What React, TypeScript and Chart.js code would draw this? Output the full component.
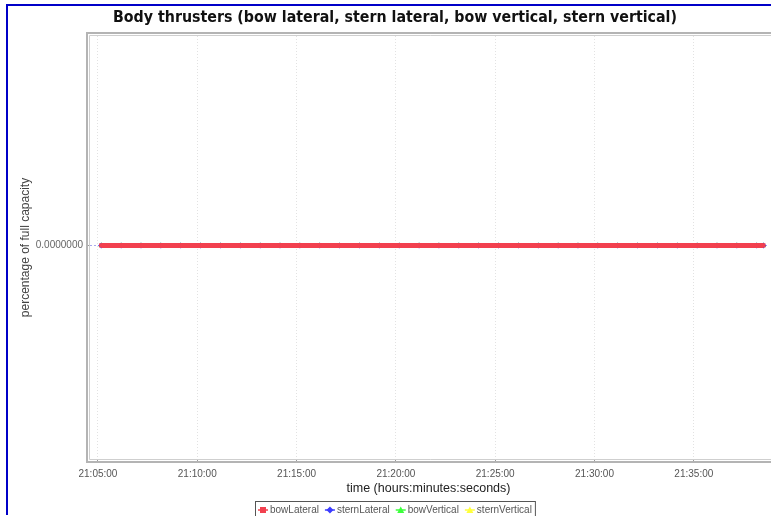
import React, { useEffect, useRef } from "react";
import { Chart, registerables } from "chart.js";

Chart.register(...registerables);

const chartTitle = "Body thrusters (bow lateral, stern lateral, bow vertical, stern vertical)";
const xAxisTitle = "time (hours:minutes:seconds)";
const yAxisTitle = "percentage of full capacity";

const seriesNames = ["bowLateral", "sternLateral", "bowVertical", "sternVertical"];
const seriesColors = ["#f2404f", "#3c3cff", "#3cff3c", "#ffff3c"];
const seriesPointStyles = ["rect", "rectRot", "triangle", "triangle"];

const sampleTimes = [
  "21:05:10", "21:06:10", "21:07:10", "21:08:10", "21:09:10", "21:10:10", "21:11:10",
  "21:12:10", "21:13:10", "21:14:10", "21:15:10", "21:16:10", "21:17:10", "21:18:10",
  "21:19:10", "21:20:10", "21:21:10", "21:22:10", "21:23:10", "21:24:10", "21:25:10",
  "21:26:10", "21:27:10", "21:28:10", "21:29:10", "21:30:10", "21:31:10", "21:32:10",
  "21:33:10", "21:34:10", "21:35:10", "21:36:10", "21:37:10", "21:38:10", "21:38:30",
];

const bowLateral = [0, 0, 0, 0, 0, 0, 0, 0, 0, 0, 0, 0, 0, 0, 0, 0, 0, 0, 0, 0, 0, 0, 0, 0, 0, 0, 0, 0, 0, 0, 0, 0, 0, 0, 0];
const sternLateral = [0, 0, 0, 0, 0, 0, 0, 0, 0, 0, 0, 0, 0, 0, 0, 0, 0, 0, 0, 0, 0, 0, 0, 0, 0, 0, 0, 0, 0, 0, 0, 0, 0, 0, 0];
const bowVertical = [0, 0, 0, 0, 0, 0, 0, 0, 0, 0, 0, 0, 0, 0, 0, 0, 0, 0, 0, 0, 0, 0, 0, 0, 0, 0, 0, 0, 0, 0, 0, 0, 0, 0, 0];
const sternVertical = [0, 0, 0, 0, 0, 0, 0, 0, 0, 0, 0, 0, 0, 0, 0, 0, 0, 0, 0, 0, 0, 0, 0, 0, 0, 0, 0, 0, 0, 0, 0, 0, 0, 0, 0];

const xTickLabels = ["21:05:00", "21:10:00", "21:15:00", "21:20:00", "21:25:00", "21:30:00", "21:35:00"];
const yTickValues = [0];
const yTickLabels = ["0.0000000"];

const xRangeLabels = ["21:04:36", "21:38:41"];
const yRange = [-1.015, 0.995];

const toSec = (s: string) => {
  const [h, m, sec] = s.split(":").map(Number);
  return h * 3600 + m * 60 + sec;
};

const seriesValues = [bowLateral, sternLateral, bowVertical, sternVertical];

const decorPlugin = {
  id: "decor",
  beforeDraw(chart: any) {
    const { ctx } = chart;
    ctx.save();
    ctx.fillStyle = "#ffffff";
    ctx.fillRect(0, 0, chart.width, chart.height);
    ctx.restore();
  },
  afterDraw(chart: any) {
    const { ctx, chartArea } = chart;
    const { left, top, right, bottom } = chartArea;
    ctx.save();
    // plot frame (double line)
    ctx.strokeStyle = "#b4b4b4";
    ctx.lineWidth = 2;
    ctx.beginPath();
    ctx.moveTo(chart.width + 2, top - 3);
    ctx.lineTo(left - 3, top - 3);
    ctx.lineTo(left - 3, bottom + 3);
    ctx.lineTo(chart.width + 2, bottom + 3);
    ctx.stroke();
    ctx.strokeStyle = "#cfcfcf";
    ctx.lineWidth = 1;
    ctx.beginPath();
    ctx.moveTo(chart.width + 2, top - 0.5);
    ctx.lineTo(left - 0.5, top - 0.5);
    ctx.lineTo(left - 0.5, bottom + 0.5);
    ctx.lineTo(chart.width + 2, bottom + 0.5);
    ctx.stroke();

    // outer blue border
    ctx.strokeStyle = "#0000c8";
    ctx.lineWidth = 2;
    ctx.beginPath();
    ctx.moveTo(7, 515);
    ctx.lineTo(7, 5);
    ctx.lineTo(773, 5);
    ctx.stroke();

    // title
    ctx.fillStyle = "#111111";
    ctx.font = "bold 15.8px 'DejaVu Sans Condensed'";
    ctx.textAlign = "center";
    ctx.textBaseline = "middle";
    ctx.fillText(chartTitle, 395, 18);

    // legend
    ctx.font = "10px 'Liberation Sans'";
    const lx0 = 255;
    const ly = 510;
    let x = lx0 + 3;
    const items: any[] = [];
    chart.data.datasets.forEach((ds: any) => {
      const w = ctx.measureText(ds.label).width;
      items.push({ ds, x, w });
      x += 12 + w + 6;
    });
    const lx1 = x - 3;
    ctx.strokeStyle = "#555555";
    ctx.lineWidth = 1;
    ctx.strokeRect(lx0 + 0.5, 501.5, lx1 - lx0, 20);
    items.forEach(({ ds, x: ix }) => {
      const c = ds.borderColor;
      ctx.strokeStyle = c;
      ctx.fillStyle = c;
      ctx.lineWidth = 1.5;
      ctx.beginPath();
      ctx.moveTo(ix, ly);
      ctx.lineTo(ix + 10, ly);
      ctx.stroke();
      const cx = ix + 5;
      ctx.beginPath();
      if (ds.pointStyle === "rect") {
        ctx.rect(cx - 3, ly - 3, 6, 6);
      } else if (ds.pointStyle === "rectRot") {
        ctx.moveTo(cx, ly - 3.5);
        ctx.lineTo(cx + 3.5, ly);
        ctx.lineTo(cx, ly + 3.5);
        ctx.lineTo(cx - 3.5, ly);
      } else {
        ctx.moveTo(cx, ly - 3.5);
        ctx.lineTo(cx + 3.5, ly + 3);
        ctx.lineTo(cx - 3.5, ly + 3);
      }
      ctx.closePath();
      ctx.fill();
      ctx.fillStyle = "#555555";
      ctx.textAlign = "left";
      ctx.textBaseline = "middle";
      ctx.fillText(ds.label, ix + 12, ly);
    });
    ctx.restore();
  },
};

export default function App() {
  const ref = useRef<HTMLCanvasElement | null>(null);

  useEffect(() => {
    document.body.style.margin = "0";
    const canvas = ref.current;
    if (!canvas) return;
    const times = sampleTimes.map(toSec);
    const datasets = seriesNames.map((name, i) => ({
      label: name,
      data: times.map((t, j) => ({ x: t, y: seriesValues[i][j] })),
      borderColor: seriesColors[i],
      backgroundColor: seriesColors[i],
      borderWidth: 5,
      pointStyle: seriesPointStyles[i],
      pointRadius: 3,
      pointBorderWidth: 0,
      pointBackgroundColor: seriesColors[i],
      fill: false,
      tension: 0,
    }));
    const xTickValues = xTickLabels.map(toSec);

    const chart = new Chart(canvas, {
      type: "line",
      data: { datasets },
      options: {
        animation: false,
        responsive: false,
        devicePixelRatio: 1,
        layout: { padding: { top: 36, left: 0, right: 0, bottom: 0 } },
        plugins: {
          legend: { display: false },
          title: { display: false },
          tooltip: { enabled: false },
        },
        scales: {
          x: {
            type: "linear",
            min: toSec(xRangeLabels[0]),
            max: toSec(xRangeLabels[1]),
            afterBuildTicks: (scale: any) => {
              scale.ticks = xTickValues.map((v) => ({ value: v }));
            },
            afterFit: (scale: any) => {
              scale.height = 57;
            },
            ticks: {
              autoSkip: false,
              maxRotation: 0,
              padding: 5,
              color: "#555555",
              font: { family: "'Liberation Sans'", size: 10 },
              callback: (v: any) => {
                const i = xTickValues.indexOf(Number(v));
                return i >= 0 ? xTickLabels[i] : "";
              },
            },
            grid: {
              color: "#e2e2e2",
              tickColor: "#999999",
              tickLength: 4,
              drawTicks: true,
            },
            border: { display: false, dash: [1, 2] },
            title: {
              display: true,
              text: xAxisTitle,
              color: "#222222",
              font: { family: "'Liberation Sans'", size: 12.5 },
              padding: { top: 0, bottom: 20 },
            },
          },
          y: {
            type: "linear",
            min: yRange[0],
            max: yRange[1],
            afterBuildTicks: (scale: any) => {
              scale.ticks = yTickValues.map((v) => ({ value: v }));
            },
            afterFit: (scale: any) => {
              scale.width = 90;
            },
            ticks: {
              padding: 3,
              color: "#666666",
              font: { family: "'Liberation Sans'", size: 10 },
              callback: (v: any) => {
                const i = yTickValues.indexOf(Number(v));
                return i >= 0 ? yTickLabels[i] : "";
              },
            },
            grid: {
              color: "#a8a8ee",
              tickColor: "#999999",
              tickLength: 4,
            },
            border: { display: false, dash: [2, 2] },
            title: {
              display: true,
              text: yAxisTitle,
              color: "#444444",
              font: { family: "'Liberation Sans'", size: 12 },
              padding: { top: 18, bottom: 0 },
            },
          },
        },
      } as any,
      plugins: [decorPlugin],
    });
    return () => chart.destroy();
  }, []);

  return (
    <div style={{ width: 771, height: 516 }}>
      <canvas ref={ref} width={771} height={516} style={{ display: "block" }} />
    </div>
  );
}
